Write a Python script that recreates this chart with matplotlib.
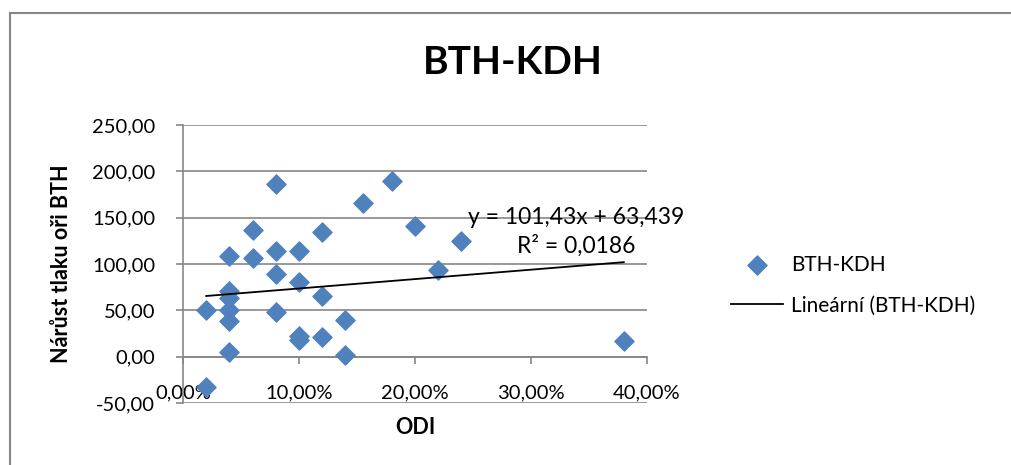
import matplotlib
matplotlib.use("Agg")
import matplotlib.pyplot as plt
from matplotlib.lines import Line2D
from matplotlib.ticker import FuncFormatter, MultipleLocator
import numpy as np

plt.rcParams.update({"font.family": ["Lato", "DejaVu Sans"], "font.size": 14})

BLUE, GRID = "#4F81BD", "#868686"

# ODI (fraction) vs pressure increase
odi = [0.02, 0.04, 0.04, 0.04, 0.04, 0.04, 0.04, 0.06, 0.06, 0.08,
       0.08, 0.08, 0.08, 0.10, 0.10, 0.10, 0.10, 0.12, 0.12, 0.12,
       0.14, 0.14, 0.155, 0.18, 0.20, 0.22, 0.24, 0.38, 0.02]
narust = [50.5, 108.5, 71.0, 63.0, 50.5, 39.0, 4.5, 137.0, 106.0, 186.5,
          114.0, 89.0, 48.5, 113.5, 80.5, 22.5, 18.5, 134.5, 65.0, 21.0,
          40.0, 2.0, 166.0, 189.5, 141.5, 94.0, 125.0, 16.5, -33.0]
slope, intercept, r2 = 101.43, 63.439, 0.0186

fig = plt.figure(figsize=(10.11, 4.65), dpi=100)
ax = fig.add_axes([183 / 1011, 1 - 403 / 465, (647 - 183) / 1011, (403 - 125) / 465])

ax.scatter(odi, narust, marker="D", s=95, color=BLUE, edgecolors=BLUE, zorder=3, label="BTH-KDH")
xs = np.array([min(odi), max(odi)])
ax.plot(xs, slope * xs + intercept, color="black", lw=1.3, zorder=4, label="Lineární (BTH-KDH)")

ax.set_xlim(0, 0.40)
ax.set_ylim(-50, 250)
ax.xaxis.set_major_locator(MultipleLocator(0.10))
ax.yaxis.set_major_locator(MultipleLocator(50))
ax.xaxis.set_major_formatter(FuncFormatter(lambda v, p: ("%.2f%%" % (v * 100)).replace(".", ",")))
ax.yaxis.set_major_formatter(FuncFormatter(lambda v, p: ("%.2f" % v).replace(".", ",")))
ax.grid(axis="y", color=GRID, lw=1.2, zorder=0)
ax.set_axisbelow(True)
for s in ("top", "right"):
    ax.spines[s].set_visible(False)
ax.spines["bottom"].set_position(("data", 0))
for s in ("bottom", "left"):
    ax.spines[s].set_color(GRID)
    ax.spines[s].set_linewidth(1.2)
ax.tick_params(axis="x", length=5, width=1.2, color=GRID, pad=15, labelsize=14.5)
ax.tick_params(axis="y", length=5, width=1.2, color=GRID, pad=15, labelsize=14.5)

ax.set_xlabel("ODI", fontweight="bold", fontsize=15.5)
ax.xaxis.set_label_coords(0.5, -0.05)
ax.set_ylabel("Nárůst tlaku oři BTH", fontweight="bold", fontsize=15.5)
ax.yaxis.set_label_coords(-0.24, 0.5)

ax.text(576, 465 - 217, ("y = %.2fx + %.3f" % (slope, intercept)).replace(".", ","),
        fontsize=16.5, ha="center", va="center", transform=None)
ax.text(576, 465 - 246, ("R² = %.4f" % r2).replace(".", ","), fontsize=16.5,
        ha="center", va="center", transform=None)

fig.text(513 / 1011, 1 - 63 / 465, "BTH-KDH", fontsize=28, fontweight="bold", ha="center", va="center")

ax.legend(loc="center left", bbox_to_anchor=(712 / 1011, 1 - 285 / 465), bbox_transform=fig.transFigure,
          frameon=False, fontsize=15, handlelength=2.5, labelspacing=1.0, handletextpad=0.4)

fig.add_artist(Line2D([10 / 1011, 1], [1 - 13 / 465, 1 - 13 / 465], color=GRID, lw=1.5))
fig.add_artist(Line2D([10 / 1011, 10 / 1011], [0, 1 - 13 / 465], color=GRID, lw=1.5))

fig.savefig("out.png", dpi=100)
